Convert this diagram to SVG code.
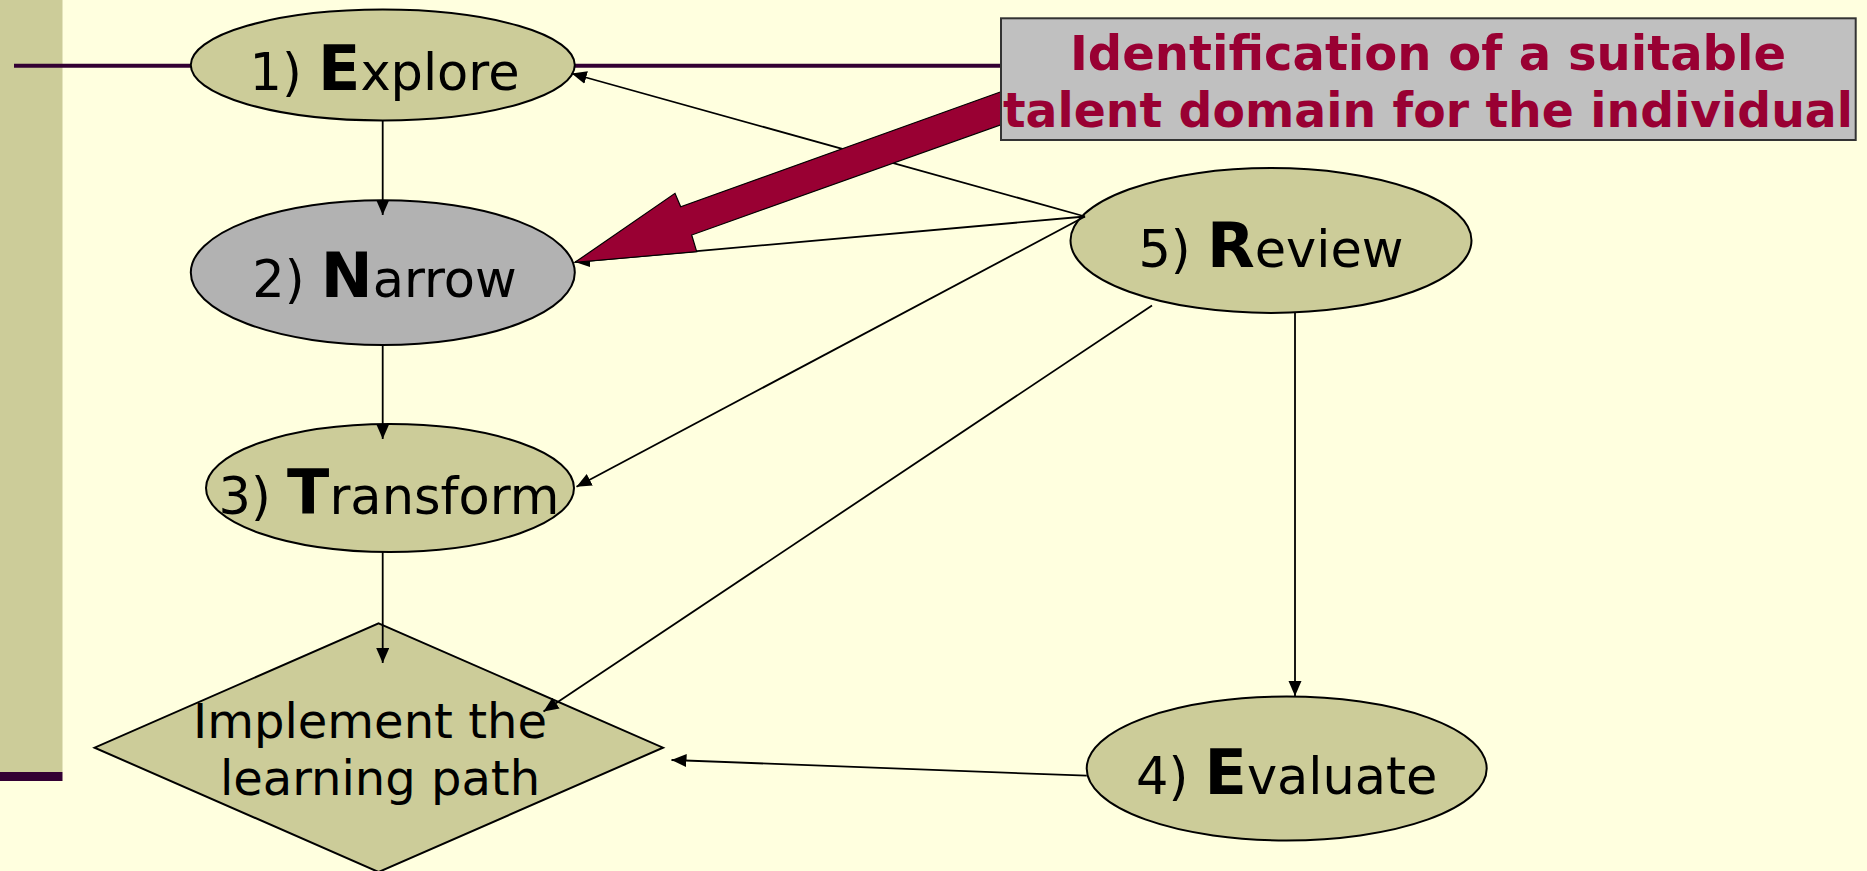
<svg xmlns="http://www.w3.org/2000/svg" width="1867" height="871" viewBox="0 0 1867 871">
  <defs>
    <style>
      .node { fill: #CCCC99; stroke: #000; stroke-width: 2; }
      .gray { fill: #B2B2B2; }
      .lbl { font-family: "DejaVu Sans", Verdana, sans-serif; font-size: 51px; fill: #000; }
      .cap { font-weight: bold; font-size: 62px; }
      .diam { font-family: "DejaVu Sans", Verdana, sans-serif; font-size: 48px; fill: #000; }
      .edge { stroke: #000; stroke-width: 1.8; fill: none; marker-end: url(#arrow); }
      .title { font-family: "DejaVu Sans", Verdana, sans-serif; font-weight: bold; font-size: 48px; fill: #990033; }
    </style>
    <marker id="arrow" markerUnits="userSpaceOnUse" markerWidth="16" markerHeight="14" refX="15" refY="6.5" orient="auto">
      <path d="M0,0 L15,6.5 L0,13 z" fill="#000"/>
    </marker>
  </defs>

  <!-- page background and side band -->
  <rect x="0" y="0" width="1867" height="871" fill="#FFFFDF"/>
  <rect x="0" y="0" width="62.5" height="772" fill="#CCCC99"/>
  <rect x="0" y="772" width="62.5" height="9" fill="#330033"/>
  <line x1="14" y1="65.7" x2="1002" y2="65.7" stroke="#330033" stroke-width="4"/>

  <!-- nodes -->
  <g id="explore">
    <ellipse class="node" cx="382.8" cy="65" rx="192" ry="55.4"/>
    <text class="lbl" x="384.5" y="90" text-anchor="middle">1) <tspan class="cap">E</tspan>xplore</text>
  </g>
  <g id="narrow">
    <ellipse class="node gray" cx="382.8" cy="272.6" rx="192" ry="72.4"/>
    <text class="lbl" x="384.5" y="297" text-anchor="middle">2) <tspan class="cap">N</tspan>arrow</text>
  </g>
  <g id="transform">
    <ellipse class="node" cx="390" cy="488" rx="184" ry="64"/>
    <text class="lbl" x="389" y="514" text-anchor="middle">3) <tspan class="cap">T</tspan>ransform</text>
  </g>
  <g id="implement">
    <polygon class="node" points="378.6,623.3 663,747.7 378.6,872 94.6,747.7"/>
    <text class="diam" x="370" y="738" text-anchor="middle">Implement the</text>
    <text class="diam" x="380" y="795" text-anchor="middle">learning path</text>
  </g>
  <g id="review">
    <ellipse class="node" cx="1271" cy="240.5" rx="200.5" ry="72.4"/>
    <text class="lbl" x="1271" y="266.7" text-anchor="middle">5) <tspan class="cap">R</tspan>eview</text>
  </g>
  <g id="evaluate">
    <ellipse class="node" cx="1286.7" cy="768.5" rx="200" ry="72"/>
    <text class="lbl" x="1286.7" y="793.5" text-anchor="middle">4) <tspan class="cap">E</tspan>valuate</text>
  </g>

  <!-- connectors, drawn over the shapes so their heads stay visible -->
  <g id="connectors">
    <line class="edge" x1="382.7" y1="120" x2="382.7" y2="215"/>
    <line class="edge" x1="382.7" y1="345" x2="382.7" y2="439"/>
    <line class="edge" x1="382.7" y1="552" x2="382.7" y2="663"/>
    <line class="edge" x1="1085" y1="216.5" x2="571.7" y2="73.5"/>
    <line class="edge" x1="1085" y1="216.5" x2="575" y2="262"/>
    <line class="edge" x1="1085" y1="216.5" x2="576.5" y2="486.7"/>
    <line class="edge" x1="1152" y1="305.5" x2="543.5" y2="711.5"/>
    <line class="edge" x1="1295" y1="313" x2="1295" y2="696"/>
    <line class="edge" x1="1086.7" y1="775.7" x2="671.5" y2="760"/>
  </g>

  <!-- callout: block arrow and its caption box -->
  <g id="callout">
    <polygon points="1010,88.5 680.7,206.7 675,193.3 575,262.3 696.7,251.7 691.7,235 1010,121.5" fill="#990033" stroke="#000" stroke-width="1.2" stroke-linejoin="miter"/>
    <rect x="1001" y="18.3" width="854.7" height="121.7" fill="#C0C0C0" stroke="#333" stroke-width="2"/>
    <text class="title" x="1428" y="70" text-anchor="middle" textLength="716" lengthAdjust="spacingAndGlyphs">Identification of a suitable</text>
    <text class="title" x="1428" y="126.7" text-anchor="middle" textLength="850" lengthAdjust="spacingAndGlyphs">talent domain for the individual</text>
  </g>
</svg>
